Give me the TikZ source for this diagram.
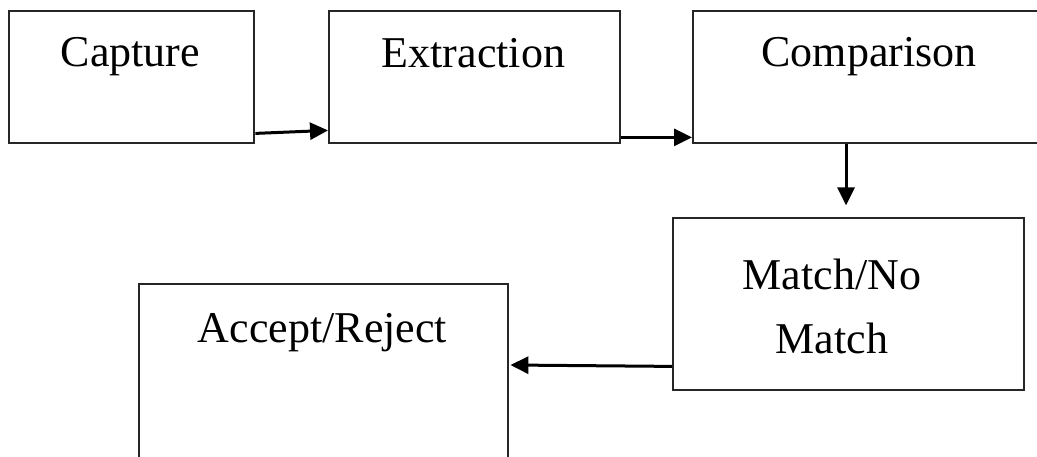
\documentclass[tikz,border=0pt]{standalone}
\usepackage{fontspec}
\setmainfont{Liberation Serif}
\usetikzlibrary{arrows.meta,calc}
\tikzset{
  stagebox/.style={draw=black!85, line width=2.4pt, fill=none, rectangle,
    inner sep=0pt, anchor=north west},
  stagetext/.style={anchor=base, inner sep=0pt, align=center,
    font=\fontsize{44}{64}\selectfont},
  flow/.style={line width=3pt, black,
    -{Triangle[length=18pt,width=17pt]}},
}
\begin{document}
\begin{tikzpicture}[x=1pt,y=-1pt]
  \useasboundingbox (0,0) rectangle (1037,456);
  \clip (0,0) rectangle (1037,456);

  % stage boxes
  \node[stagebox, minimum width=245pt, minimum height=132pt] (cap) at (8,10) {};
  \node[stagebox, minimum width=291pt, minimum height=132pt] (ext) at (328,10) {};
  \node[stagebox, minimum width=354pt, minimum height=132pt] (cmp) at (692,10) {};
  \node[stagebox, minimum width=351pt, minimum height=172pt] (mat) at (672,217) {};
  \node[stagebox, minimum width=369pt, minimum height=190pt] (acc) at (138,283) {};

  % stage labels (base anchor = baseline of the last line)
  \node[stagetext] (capt) at (130.5,66) {Capture};
  \node[stagetext] (extt) at (473.5,67) {Extraction};
  \node[stagetext] (cmpt) at (869,66) {Comparison};
  \node[stagetext] (matt) at (832,353) {Match/No\\Match};
  \node[stagetext] (acct) at (322.5,342) {Accept/Reject};

  % connectors
  \draw[flow] ($(cap.south east)+(0,-11)$) -- ($(ext.south west)+(0,-14)$);
  \draw[flow] ($(ext.south east)+(0,-7)$) -- ($(cmp.south west)+(0,-7)$);
  \coordinate (cmpout) at ($(cmp.south west)+(154,0)$);
  \draw[flow] (cmpout) -- ($(cmpout)+(0,61)$);
  \draw[flow] ($(mat.south west)+(0,-25)$) -- ($(acc.north east)+(1,82)$);
\end{tikzpicture}
\end{document}
